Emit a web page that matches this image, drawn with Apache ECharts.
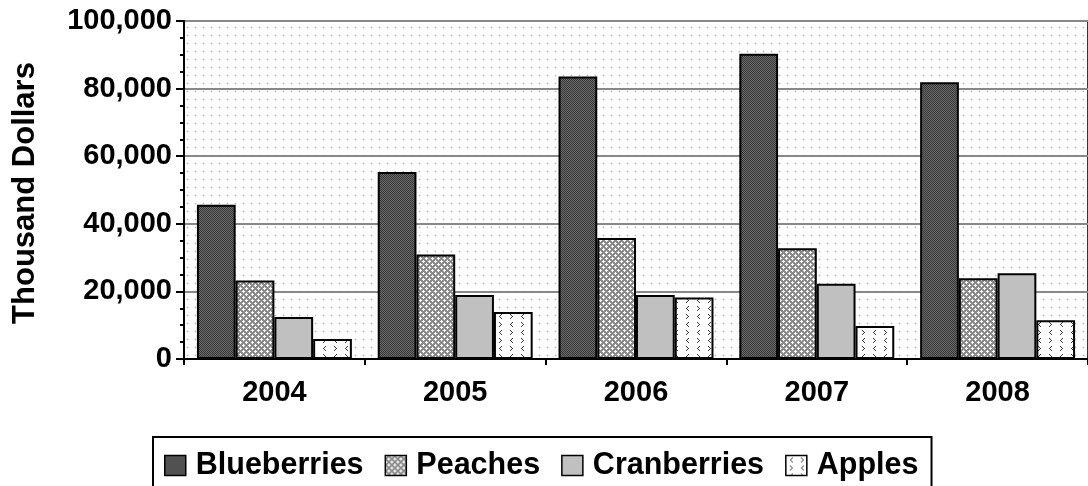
<!DOCTYPE html>
<html>
<head>
<meta charset="utf-8">
<script src="https://cdn.jsdelivr.net/npm/echarts@6/dist/echarts.min.js"></script>
<style>
html,body{margin:0;padding:0;background:#fff;}
#chart{width:1088px;height:486px;}
</style>
</head>
<body>
<div id="chart"></div>
<script>
const categories = ['2004', '2005', '2006', '2007', '2008'];
const blueberries = [45600, 55300, 83600, 90300, 81900];
const peaches = [23200, 30900, 35800, 32800, 23900];
const cranberries = [12400, 18900, 18900, 22300, 25400];
const apples = [5900, 13900, 18200, 9800, 11500];
const seriesNames = ['Blueberries', 'Peaches', 'Cranberries', 'Apples'];
const yTicks = { min: 0, max: 100000, interval: 20000 };

function makeCanvas(w, h, draw) {
  const c = document.createElement('canvas');
  c.width = w; c.height = h;
  const ctx = c.getContext('2d');
  draw(ctx);
  return c;
}
function px(ctx, x, y, col) { ctx.fillStyle = col; ctx.fillRect(x, y, 1, 1); }

const bgPattern = makeCanvas(8, 8, ctx => {
  ctx.fillStyle = '#ffffff'; ctx.fillRect(0, 0, 8, 8);
  px(ctx, 3, 3, '#b4b4b4');
  px(ctx, 2, 3, '#ececec'); px(ctx, 4, 3, '#ececec');
  px(ctx, 3, 2, '#ececec'); px(ctx, 3, 4, '#ececec');
});
const bluePattern = makeCanvas(2, 2, ctx => {
  ctx.fillStyle = '#686868'; ctx.fillRect(0, 0, 2, 2);
  px(ctx, 0, 0, '#3a3a3a'); px(ctx, 1, 1, '#3a3a3a');
});
const peachPattern = makeCanvas(6, 6, ctx => {
  ctx.fillStyle = '#8c8c8c'; ctx.fillRect(0, 0, 6, 6);
  const w = '#ffffff';
  px(ctx, 3, 3, w); px(ctx, 2, 3, w); px(ctx, 4, 3, w); px(ctx, 3, 2, w); px(ctx, 3, 4, w);
  px(ctx, 0, 0, w); px(ctx, 5, 0, w); px(ctx, 1, 0, w); px(ctx, 0, 5, w); px(ctx, 0, 1, w);
});
const applePattern = makeCanvas(22, 16, ctx => {
  ctx.fillStyle = '#ffffff'; ctx.fillRect(0, 0, 22, 16);
  const d = '#3a3a3a';
  px(ctx, 6, 2, d); px(ctx, 5, 3, d); px(ctx, 4, 4, d); px(ctx, 5, 5, d); px(ctx, 6, 6, d);
  px(ctx, 15, 2, d); px(ctx, 16, 3, d); px(ctx, 17, 4, d); px(ctx, 16, 5, d); px(ctx, 15, 6, d);
  px(ctx, 4, 10, d); px(ctx, 5, 11, d); px(ctx, 6, 12, d); px(ctx, 5, 13, d); px(ctx, 4, 14, d);
  px(ctx, 17, 10, d); px(ctx, 16, 11, d); px(ctx, 15, 12, d); px(ctx, 16, 13, d); px(ctx, 17, 14, d);
});

const fills = [
  { image: bluePattern, repeat: 'repeat' },
  { image: peachPattern, repeat: 'repeat' },
  '#c0c0c0',
  { image: applePattern, repeat: 'repeat' }
];
const seriesData = [blueberries, peaches, cranberries, apples];

const FONT = '"Liberation Sans", Arial, sans-serif';

const chart = echarts.init(document.getElementById('chart'), null, { renderer: 'canvas' });
chart.setOption({
  animation: false,
  backgroundColor: '#ffffff',
  grid: {
    left: 184, top: 21, width: 910, height: 338,
    show: true,
    backgroundColor: { image: bgPattern, repeat: 'repeat' },
    borderColor: '#333333', borderWidth: 2
  },
  legend: {
    data: seriesNames,
    left: 153, top: 437,
    orient: 'horizontal',
    borderColor: '#000', borderWidth: 2,
    padding: [13, 13, 14, 11],
    itemGap: 21,
    itemWidth: 21, itemHeight: 20,
    icon: 'rect',
    itemStyle: { borderColor: '#000', borderWidth: 1.5 },
    textStyle: { fontFamily: FONT, fontWeight: 'bold', fontSize: 30.5, color: '#000', padding: [0, 0, 0, 5] }
  },
  xAxis: {
    type: 'category',
    data: categories,
    axisLine: { lineStyle: { color: '#000', width: 2 } },
    axisTick: { show: true, length: 6, lineStyle: { color: '#000', width: 2 } },
    axisLabel: { fontFamily: FONT, fontWeight: 'bold', fontSize: 29, color: '#000', margin: 19 },
    splitLine: { show: false }
  },
  yAxis: {
    type: 'value',
    min: yTicks.min, max: yTicks.max, interval: yTicks.interval,
    name: 'Thousand Dollars',
    nameLocation: 'middle',
    nameGap: 143,
    nameRotate: 90,
    nameTextStyle: { fontFamily: FONT, fontWeight: 'bold', fontSize: 31, color: '#000', padding: [0, 6, 0, 0] },
    axisLine: { show: true, lineStyle: { color: '#000', width: 2 } },
    axisTick: { show: true, length: 8, lineStyle: { color: '#000', width: 2 } },
    minorTick: { show: true, splitNumber: 4, length: 4, lineStyle: { color: '#000', width: 2 } },
    axisLabel: {
      fontFamily: FONT, fontWeight: 'bold', fontSize: 29, color: '#000', margin: 12,
      formatter: v => v.toLocaleString('en-US')
    },
    splitLine: { show: true, lineStyle: { color: '#888888', width: 2 } }
  },
  series: seriesNames.map((name, i) => ({
    name,
    type: 'bar',
    data: seriesData[i],
    barGap: '0%',
    barCategoryGap: '14.3%',
    itemStyle: { color: fills[i], borderColor: '#000', borderWidth: 2 }
  }))
});
</script>
</body>
</html>
